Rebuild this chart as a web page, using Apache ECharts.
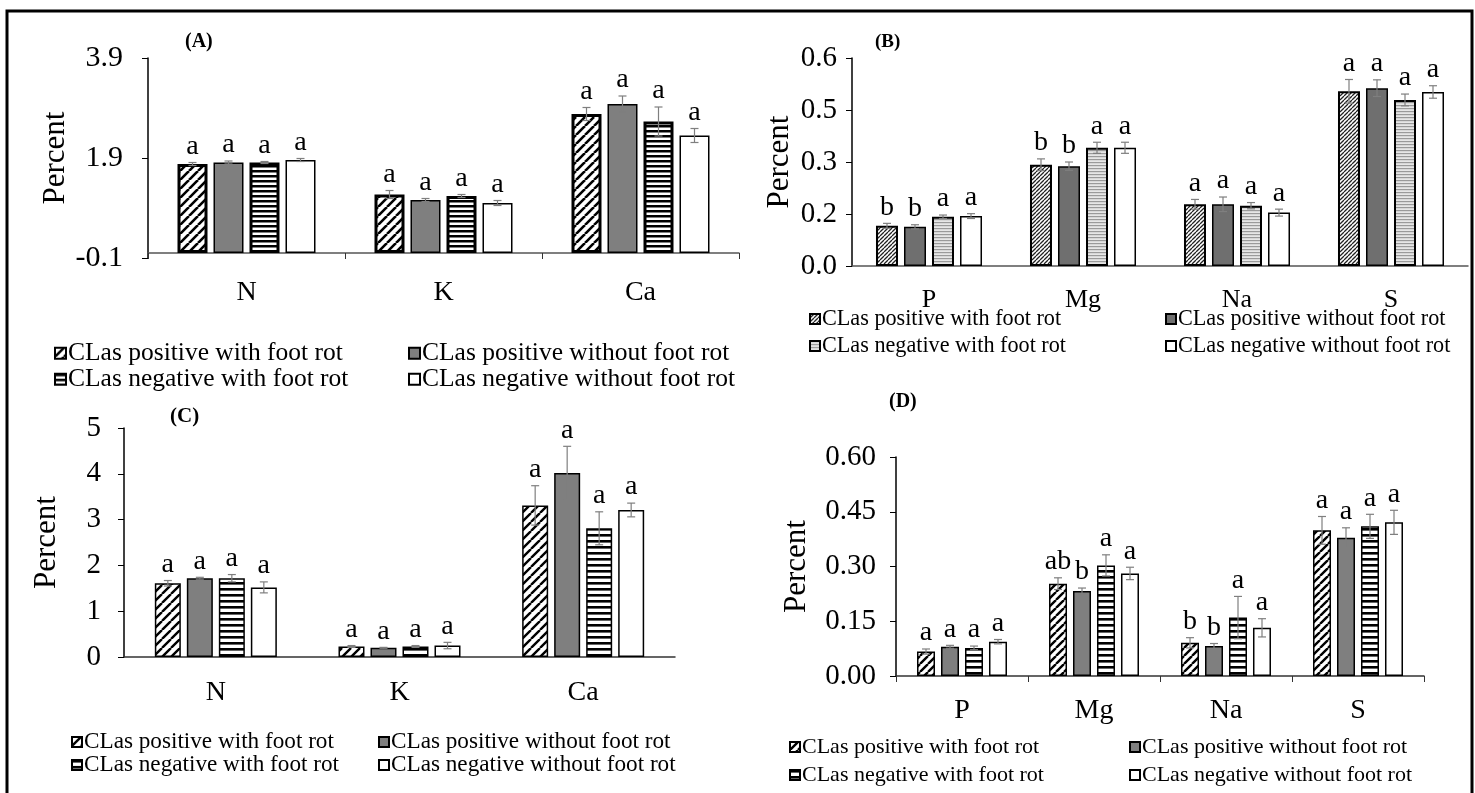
<!DOCTYPE html>
<html><head><meta charset="utf-8">
<script src="https://cdn.jsdelivr.net/npm/echarts@6/dist/echarts.min.js"></script>
<style>html,body{margin:0;padding:0;background:#fff}#c{width:1475px;height:793px}</style>
</head><body><div id="c"></div>
<script>
// ---------- DATA ----------
const seriesNames = ['CLas positive with foot rot','CLas positive without foot rot','CLas negative with foot rot','CLas negative without foot rot'];

const catsA = ['N','K','Ca'];
const valsA = [[1.78,1.17,2.78],[1.81,1.06,2.98],[1.81,1.14,2.63],[1.86,1.00,2.35]];
const errA  = [[0.03,0.08,0.13],[0.03,0.03,0.16],[0.02,0.03,0.29],[0.03,0.05,0.14]];
const letA  = [['a','a','a'],['a','a','a'],['a','a','a'],['a','a','a']];
const ticksA = [-0.1,1.9,3.9];
const tickLabelsA = ['-0.1','1.9','3.9'];

const catsB = ['P','Mg','Na','S'];
const valsB = [[0.116,0.292,0.178,0.504],[0.113,0.288,0.178,0.513],[0.142,0.341,0.174,0.479],[0.144,0.341,0.154,0.502]];
const errB  = [[0.007,0.017,0.014,0.034],[0.006,0.012,0.021,0.024],[0.005,0.016,0.009,0.017],[0.007,0.016,0.010,0.018]];
const letB  = [['b','b','a','a'],['b','b','a','a'],['a','a','a','a'],['a','a','a','a']];
const ticksB = [0,0.15,0.30,0.45,0.60];
const tickLabelsB = ['0.0','0.2','0.3','0.5','0.6'];

const catsC = ['N','K','Ca'];
const valsC = [[1.61,0.23,3.31],[1.72,0.20,4.02],[1.72,0.23,2.81],[1.52,0.25,3.21]];
const errC  = [[0.06,0.02,0.43],[0.02,0.01,0.58],[0.08,0.02,0.36],[0.12,0.07,0.15]];
const letC  = [['a','a','a'],['a','a','a'],['a','a','a'],['a','a','a']];
const ticksC = [0,1,2,3,4,5];
const tickLabelsC = ['0','1','2','3','4','5'];

const catsD = ['P','Mg','Na','S'];
const valsD = [[0.067,0.253,0.091,0.399],[0.080,0.233,0.082,0.379],[0.077,0.303,0.160,0.410],[0.094,0.281,0.132,0.421]];
const errD  = [[0.007,0.016,0.014,0.038],[0.004,0.008,0.007,0.027],[0.005,0.029,0.058,0.033],[0.006,0.017,0.025,0.033]];
const letD  = [['a','ab','b','a'],['a','b','b','a'],['a','a','a','a'],['a','a','a','a']];
const ticksD = [0,0.15,0.30,0.45,0.60];
const tickLabelsD = ['0.00','0.15','0.30','0.45','0.60'];

// ---------- PATTERNS ----------
function diag(s, lw, fg, bg){
  const c=document.createElement('canvas'); c.width=s; c.height=s;
  const g=c.getContext('2d'); g.fillStyle=bg; g.fillRect(0,0,s,s);
  g.strokeStyle=fg; g.lineWidth=lw; g.beginPath();
  for(let k=-1;k<=1;k++){ g.moveTo(k*s, s); g.lineTo(k*s+s, 0); }
  g.stroke(); return {image:c, repeat:'repeat'};
}
function hstripe(p, lw, fg, bg){
  const c=document.createElement('canvas'); c.width=8; c.height=p;
  const g=c.getContext('2d'); g.fillStyle=bg; g.fillRect(0,0,8,p);
  g.fillStyle=fg; g.fillRect(0,0,8,lw); return {image:c, repeat:'repeat'};
}

const FONT = '"Liberation Serif", "Times New Roman", serif';

const panels = [
  {key:'A', cats:catsA, vals:valsA, err:errA, let:letA, ticks:ticksA, tl:tickLabelsA, min:-0.1, max:3.9,
   grid:{left:148, top:58, width:591, height:200}, bw:30, gap:6,
   fills:[diag(9,2.6,'#000','#fff'),'#7f7f7f',hstripe(5,2.5,'#000','#fff'),'#fff'], bws:[3,1.5,3,1.5],
   tickFs:30, catFs:28, letFs:28, yMargin:25, xMargin:21, nameGap:75, xTick:true, xAxisColor:'#555',
   title:{text:'(A)', x:200, y:42, fs:20},
   legend:{rows:[353,379], cols:[54,408], fs:25.5, icon:11}},
  {key:'B', cats:catsB, vals:valsB, err:errB, let:letB, ticks:ticksB, tl:tickLabelsB, min:0, max:0.6,
   grid:{left:852, top:58, width:616, height:208}, bw:22, gap:6,
   fills:[diag(4,1.3,'#222','#fff'),'#6f6f6f',hstripe(3,1.2,'#9a9a9a','#e6e6e6'),'#fff'], bws:[2,1.5,2,1.5],
   tickFs:29, catFs:26, letFs:28, yMargin:15, xMargin:21, nameGap:57, xTick:false, xAxisColor:'#555',
   title:{text:'(B)', x:890, y:42, fs:19},
   legend:{rows:[319,346], cols:[809,1165], fs:22.2, icon:10}},
  {key:'C', cats:catsC, vals:valsC, err:errC, let:letC, ticks:ticksC, tl:tickLabelsC, min:0, max:5,
   grid:{left:124, top:428, width:551, height:229}, bw:26, gap:6,
   fills:[diag(9,2.4,'#000','#fff'),'#7f7f7f',hstripe(6,2.6,'#000','#fff'),'#fff'], bws:[1.5,1.5,1.5,1.5],
   tickFs:29, catFs:28, letFs:28, yMargin:23, xMargin:22, nameGap:62, xTick:false, xAxisColor:'#333',
   title:{text:'(C)', x:185, y:417, fs:21},
   legend:{rows:[742,765], cols:[71,378], fs:23.2, icon:10}},
  {key:'D', cats:catsD, vals:valsD, err:errD, let:letD, ticks:ticksD, tl:tickLabelsD, min:0, max:0.6,
   grid:{left:896, top:457, width:528, height:219}, bw:18, gap:6,
   fills:[diag(8,2.4,'#000','#fff'),'#7f7f7f',hstripe(6,2.6,'#000','#fff'),'#fff'], bws:[1.5,1.5,1.5,1.5],
   tickFs:29, catFs:28, letFs:28, yMargin:20, xMargin:21, nameGap:84, xTick:true, xAxisColor:'#333',
   title:{text:'(D)', x:904, y:402, fs:20},
   legend:{rows:[747,775], cols:[789,1129], fs:22, icon:10}}
];

const option = {animation:false, backgroundColor:'#fff', grid:[], xAxis:[], yAxis:[], series:[], legend:[], graphic:[]};

panels.forEach((p, pi) => {
  option.grid.push(p.grid);
  option.xAxis.push({type:'category', gridIndex:pi, data:p.cats,
    axisLine:{onZero:true, lineStyle:{color:p.xAxisColor, width:1.5}},
    axisTick:{show:p.xTick, length:6, lineStyle:{color:'#333'}},
    axisLabel:{color:'#000', fontFamily:FONT, fontSize:p.catFs, margin:p.xMargin}});
  option.yAxis.push({type:'value', gridIndex:pi, min:p.min, max:p.max,
    name:'Percent', nameLocation:'middle', nameGap:p.nameGap,
    nameTextStyle:{color:'#000', fontFamily:FONT, fontSize:31},
    splitLine:{show:false},
    axisLine:{show:true, lineStyle:{color:'#000', width:1.5}},
    axisTick:{show:true, length:6, customValues:p.ticks, lineStyle:{color:'#000'}},
    axisLabel:{customValues:p.ticks, color:'#000', fontFamily:FONT, fontSize:p.tickFs, margin:p.yMargin,
      formatter:(v)=>{let bi=0,bd=1e9; p.ticks.forEach((t,i)=>{const d=Math.abs(t-v); if(d<bd){bd=d;bi=i;}}); return p.tl[bi];}}});
  const gapRatio = (p.gap/p.bw*100).toFixed(1)+'%';
  seriesNames.forEach((nm, si) => {
    option.series.push({type:'bar', name:p.key+'|'+nm, xAxisIndex:pi, yAxisIndex:pi,
      data:p.vals[si], barWidth:p.bw, barGap:gapRatio, silent:true,
      itemStyle:{color:p.fills[si], borderColor:'#000', borderWidth:p.bws[si]}});
  });
  const flat = [];
  p.vals.forEach((row, si) => row.forEach((v, ci) => flat.push([ci, si, v, p.err[si][ci]])));
  const pitch = p.bw + p.gap;
  option.series.push({type:'custom', xAxisIndex:pi, yAxisIndex:pi, silent:true, z:10,
    encode:{x:0, y:2}, data:flat,
    renderItem:(params, api) => {
      const d = flat[params.dataIndex];
      const ci=d[0], si=d[1], v=d[2], e=d[3];
      const base = api.coord([ci, v]);
      const x = base[0] + (si-1.5)*pitch;
      const yt = api.coord([ci, v+e])[1], yb = api.coord([ci, v-e])[1];
      const st = {stroke:'#7f7f7f', lineWidth:1.2};
      return {type:'group', children:[
        {type:'line', shape:{x1:x,y1:yt,x2:x,y2:yb}, style:st},
        {type:'line', shape:{x1:x-4,y1:yt,x2:x+4,y2:yt}, style:st},
        {type:'line', shape:{x1:x-4,y1:yb,x2:x+4,y2:yb}, style:st},
        {type:'text', style:{text:p.let[si][ci], x:x, y:yt-2, align:'center', verticalAlign:'bottom',
          fontFamily:FONT, fontSize:p.letFs, fill:'#000'}}
      ]};
    }});
  seriesNames.forEach((nm, si) => {
    const r = Math.floor(si/2), c = si%2;
    option.legend.push({data:[p.key+'|'+nm], left:p.legend.cols[c], top:p.legend.rows[r]-p.legend.fs/2,
      padding:0, itemWidth:p.legend.icon, itemHeight:p.legend.icon, itemGap:0, icon:'rect', selectedMode:false,
      formatter:(n)=>n.split('|')[1],
      textStyle:{color:'#000', fontFamily:FONT, fontSize:p.legend.fs, padding:[0,0,0,-3]}});
  });
  option.graphic.push({type:'text', left:p.title.x-15, top:p.title.y-p.title.fs/2,
    style:{text:p.title.text, fontFamily:FONT, fontSize:p.title.fs, fontWeight:'bold', fill:'#000'}});
});

option.graphic.push({type:'rect', shape:{x:7, y:11, width:1465, height:800}, style:{fill:'none', stroke:'#000', lineWidth:3}, silent:true});

const chart = echarts.init(document.getElementById('c'), null, {renderer:'canvas'});
chart.setOption(option);
</script></body></html>
